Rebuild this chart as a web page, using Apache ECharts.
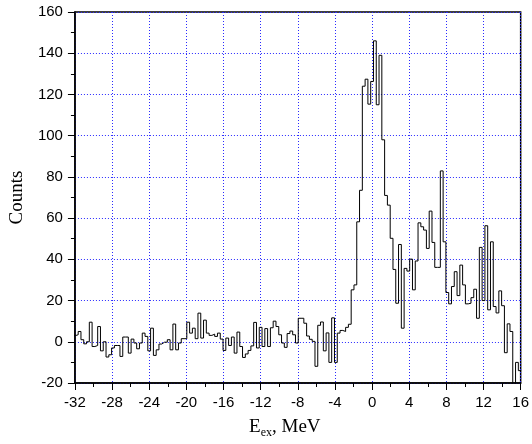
<!DOCTYPE html>
<html><head><meta charset="utf-8">
<script src="https://cdn.jsdelivr.net/npm/echarts@6/dist/echarts.min.js"></script>
<style>html,body{margin:0;padding:0;background:#fff}#c{width:532px;height:444px}</style>
</head><body><div id="c"></div>
<script>
// Histogram: uniform bins of 0.3 MeV, centred on multiples of 0.3
const binWidth = 0.3;
const firstBinCenter = -32.1;
const counts = [
  3, 3.4, 5, 1, -1, 0, 9.5, -2.3, -1.8, 7.4,
  -4.4, 0, -7.4, -6.3, -3, -1.8, -1.8, -7.1, 2.3, 2.3,
  -5.5, 1.3, -0.6, -3.4, -0.6, 4.2, 2.6, -4.4, 6.6, -6.6,
  -3.9, -1.1, -0.2, -0.2, 1, -3.9, 8.6, -3.9, -0.6, 1.5,
  1.5, 9.5, 4.2, 6.6, 1.5, 13.9, 1.8, 10.5, 4.2, 3.1,
  3.7, 2.6, 4.2, 1.3, -4.2, 1.8, -1.8, 2.3, -5.5, 4.7,
  -2.3, -7.6, -5.9, -4.2, -2, 9.4, -3, 7, -2.3, 6.4,
  -2.3, 6.8, 10, 7.4, 3.4, -0.6, -2.7, 4, 5.2, 3.4,
  -0.6, 11.4, 11.4, 9, 2.8, 1.2, 0.2, -11.9, 8, 9.6,
  -4.4, 4.3, -10, 11.6, -10, 4.2, 5.5, 5, 7, 8.5,
  25.2, 27.6, 58.2, 73.5, 124, 127.4, 115.3, 126.3, 146, 115,
  139, 98, 71, 66.3, 50.2, 35.1, 18.7, 47.2, 6.6, 35.6,
  34.3, 40.1, 25.2, 39.2, 57.7, 55.8, 54.2, 45.3, 63.4, 48.2,
  36.1, 36.1, 82.9, 48.5, 23.9, 18.4, 26.8, 34, 22.4, 37.2,
  27.6, 18.4, 18.7, 21.4, 25.5, 11.4, 45.8, 20, 56.3, 15.5,
  48.5, 17.1, 14, 24.7, 17.5, -5.3, 8.7, 5, -25, -10,
  -14
];
const xRange = [-32, 16];
const xStep = 4;
const yRange = [-20, 160];
const yStep = 20;

const pts = [];
counts.forEach((v, i) => {
  const c = firstBinCenter + i * binWidth;
  pts.push([c - binWidth / 2, v]);
  pts.push([c + binWidth / 2, v]);
});

const chart = echarts.init(document.getElementById('c'), null, {renderer: 'canvas'});
const labelFont = {color: '#000', fontFamily: 'Liberation Sans, Arial, sans-serif', fontSize: 15};
const gridLine = {show: true, lineStyle: {color: '#2a2aff', width: 1, type: [1, 2]}};
chart.setOption({
  animation: false,
  backgroundColor: '#fff',
  grid: {left: 66, right: 10, top: 12, bottom: 60.5, show: true, borderColor: '#000', borderWidth: 1.5, backgroundColor: 'transparent'},
  xAxis: {
    type: 'value', min: xRange[0], max: xRange[1], interval: xStep,
    axisLine: {show: true, onZero: false, lineStyle: {color: '#000', width: 1.5}},
    axisTick: {show: true, length: 7, lineStyle: {color: '#000', width: 1}},
    minorTick: {show: true, splitNumber: 2, length: 4, lineStyle: {color: '#000', width: 1}},
    axisLabel: Object.assign({margin: 12}, labelFont),
    splitLine: gridLine,
    name: '{a|E}{b|ex}{a|, MeV}',
    nameLocation: 'middle', nameGap: 32,
    nameTextStyle: {
      padding: [0, 26, 0, 0],
      rich: {
        a: {fontFamily: 'Liberation Serif, Times New Roman, serif', fontSize: 19, color: '#000'},
        b: {fontFamily: 'Liberation Serif, Times New Roman, serif', fontSize: 12, color: '#000', padding: [12, 0, 0, 0]}
      }
    }
  },
  yAxis: {
    type: 'value', min: yRange[0], max: yRange[1], interval: yStep,
    axisLine: {show: true, onZero: false, lineStyle: {color: '#000', width: 1.5}},
    axisTick: {show: true, length: 7, lineStyle: {color: '#000', width: 1}},
    minorTick: {show: true, splitNumber: 2, length: 4, lineStyle: {color: '#000', width: 1}},
    axisLabel: Object.assign({margin: 12}, labelFont),
    splitLine: gridLine,
    name: 'Counts', nameLocation: 'middle', nameGap: 43,
    nameTextStyle: {fontFamily: 'Liberation Serif, Times New Roman, serif', fontSize: 19, color: '#000'}
  },
  series: [{
    type: 'line', data: pts, showSymbol: false, symbol: 'none', clip: true,
    lineStyle: {color: '#000', width: 1}
  }]
});
</script></body></html>
